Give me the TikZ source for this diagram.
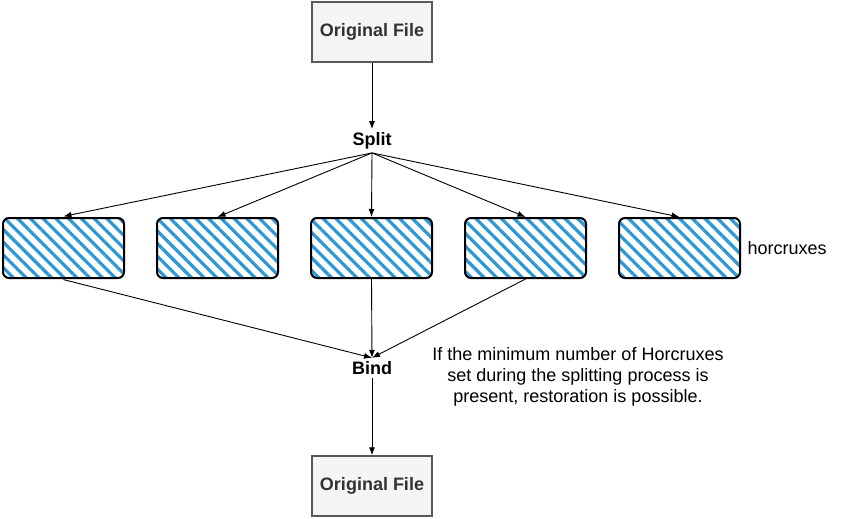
\documentclass[tikz,border=0pt]{standalone}
\usepackage{fontspec}
\setmainfont{Liberation Sans}
\usetikzlibrary{arrows.meta,patterns.meta,positioning}
\tikzset{>={Latex[length=8,width=6]}}
\colorlet{filegray}{black!4}
\colorlet{fileline}{black!65}
\definecolor{hatchblue}{RGB}{45,152,212}
\tikzstyle{myarr}=[->,line width=0.9]

\begin{document}
\begin{tikzpicture}[x=1pt,y=-1pt,
	filebox/.style={draw=fileline,fill=filegray,line width=1.3,minimum width=120,minimum height=60,
		font=\fontsize{18}{21}\selectfont\bfseries\color{black!80}},
	horcrux/.style={draw=black,line width=2,rounded corners=6,minimum width=121,minimum height=60,
		pattern={Lines[angle=-45,distance=9,line width=3.2]},pattern color=hatchblue},
	step label/.style={font=\fontsize{18}{21}\selectfont\bfseries},
	note/.style={font=\fontsize{18}{21}\selectfont,align=center}]
	
	\useasboundingbox (0,0) rectangle (844,519);
	
	\def\dx{154}      % distance between horcruxes
	\def\hy{248}      % height of horcrux row
	
	% NODES
	\node[filebox] (top) at (372,32) {Original File};
	\node[step label] (split) at (372,141) {Split};
	\foreach \i in {1,...,5}
	\node[horcrux] (h\i) at ({63.5+\dx*(\i-1)},\hy) {};
	\node[note,right=3 of h5] (hlabel) {horcruxes};
	\node[step label] (bind) at (372,368) {Bind};
	\node[note] (remark) at (578,377) {If the minimum number of Horcruxes\\set during the splitting process is\\present, restoration is possible.};
	\node[filebox] (bottom) at (372,486) {Original File};
	
	% ARROWS
	\draw[myarr] (top) -- (split);
	\foreach \i in {1,...,5}
	\draw[myarr] (split.south) -- (h\i.north);
	\foreach \i in {1,3,4}
	\draw[myarr] (h\i.south) -- (bind.north);
	\draw[myarr] (bind) -- (bottom);
	
\end{tikzpicture}
\end{document}
